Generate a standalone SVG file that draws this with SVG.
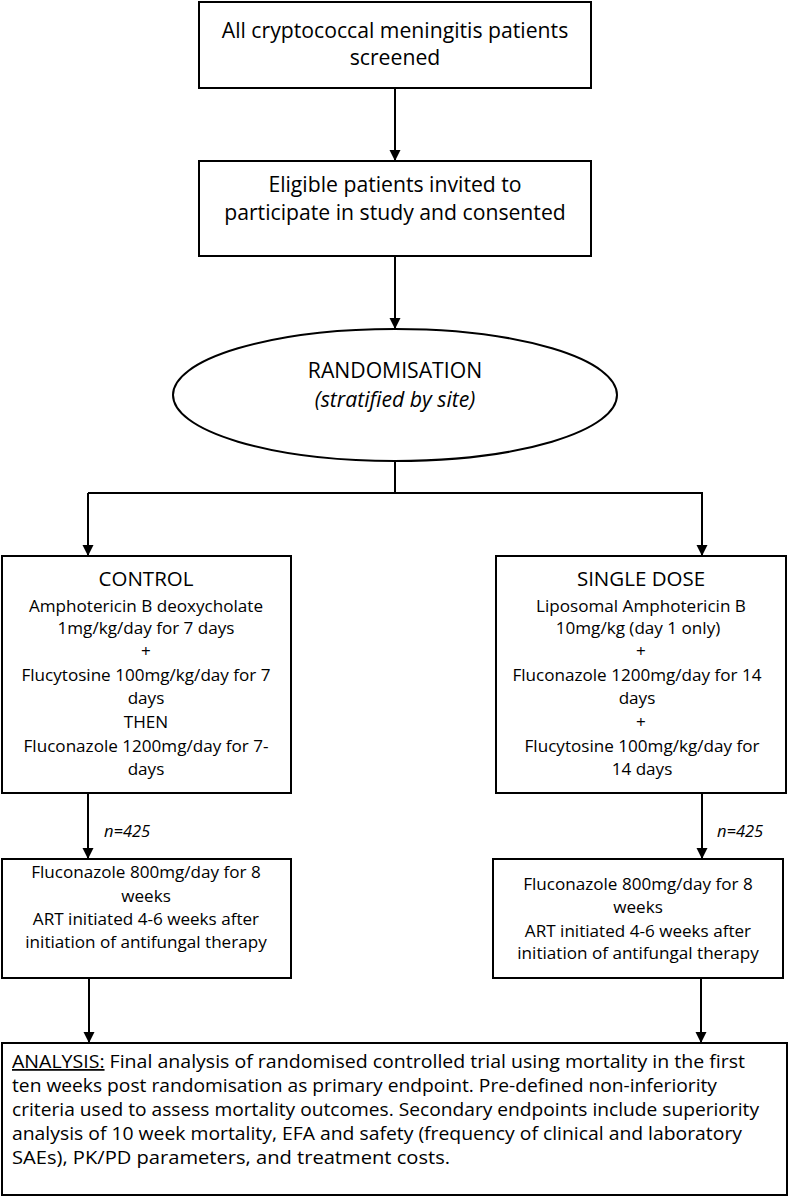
<svg xmlns="http://www.w3.org/2000/svg" width="789" height="1197" viewBox="0 0 789 1197">
<style>
.box{fill:#fff;stroke:#000;stroke-width:2}
.ln{fill:none;stroke:#000;stroke-width:2}
text{font-family:"Open Sans","Liberation Sans",sans-serif;fill:#000}
.t1{font-size:21.2px;text-anchor:middle}
.hd{font-size:20.5px;text-anchor:middle}
.t2{font-size:17.1px;text-anchor:middle}
.it{font-style:italic}
.nl{font-size:16.5px;font-style:italic}
.an{font-size:17.5px}
</style>
<defs>
<marker id="ah" markerWidth="12" markerHeight="12" refX="11" refY="5.5" orient="auto" markerUnits="userSpaceOnUse">
<path d="M0,0 L11,5.5 L0,11 z" fill="#000"/>
</marker>
</defs>
<g id="connectors">
<line class="ln" x1="395" y1="88" x2="395" y2="161" marker-end="url(#ah)"/>
<line class="ln" x1="395" y1="256" x2="395" y2="329" marker-end="url(#ah)"/>
<polyline class="ln" points="395,461 395,493"/>
<polyline class="ln" points="88,493 702,493 702,556" marker-end="url(#ah)"/>
<line class="ln" x1="88" y1="493" x2="88" y2="556" marker-end="url(#ah)"/>
<line class="ln" x1="88" y1="793" x2="88" y2="859" marker-end="url(#ah)"/>
<line class="ln" x1="702" y1="793" x2="702" y2="859" marker-end="url(#ah)"/>
<line class="ln" x1="89" y1="978" x2="89" y2="1043" marker-end="url(#ah)"/>
<line class="ln" x1="701" y1="978" x2="701" y2="1043" marker-end="url(#ah)"/>
<text class="nl" x="104" y="837">n=425</text>
<text class="nl" x="717" y="837">n=425</text>
</g>
<g id="screened">
<rect class="box" x="199" y="2" width="392" height="86"/>
<text class="t1" x="395" y="38">All cryptococcal meningitis patients</text>
<text class="t1" x="395" y="65">screened</text>
</g>
<g id="eligible">
<rect class="box" x="199" y="161" width="392" height="95"/>
<text class="t1" x="395" y="192">Eligible patients invited to</text>
<text class="t1" x="395" y="220">participate in study and consented</text>
</g>
<g id="randomisation">
<ellipse class="box" cx="395" cy="395" rx="222" ry="66"/>
<text class="t1" x="395" y="378">RANDOMISATION</text>
<text class="t1 it" x="395" y="407">(stratified by site)</text>
</g>
<g id="control">
<rect class="box" x="2" y="556" width="289" height="237"/>
<text class="hd" x="146" y="586">CONTROL</text>
<text class="t2" x="146" y="612">Amphotericin B deoxycholate</text>
<text class="t2" x="146" y="634">1mg/kg/day for 7 days</text>
<text class="t2" x="146" y="657">+</text>
<text class="t2" x="146" y="681">Flucytosine 100mg/kg/day for 7</text>
<text class="t2" x="146" y="704">days</text>
<text class="t2" x="146" y="728">THEN</text>
<text class="t2" x="146" y="752">Fluconazole 1200mg/day for 7-</text>
<text class="t2" x="146" y="775">days</text>
</g>
<g id="single-dose">
<rect class="box" x="496" y="556" width="290" height="237"/>
<text class="hd" x="641" y="586">SINGLE DOSE</text>
<text class="t2" x="641" y="612">Liposomal Amphotericin B</text>
<text class="t2" x="638" y="634">10mg/kg (day 1 only)</text>
<text class="t2" x="641" y="657">+</text>
<text class="t2" x="637" y="681">Fluconazole 1200mg/day for 14</text>
<text class="t2" x="637" y="704">days</text>
<text class="t2" x="641" y="728">+</text>
<text class="t2" x="642" y="752">Flucytosine 100mg/kg/day for</text>
<text class="t2" x="642" y="775">14 days</text>
</g>
<g id="control-followup">
<rect class="box" x="2" y="859" width="289" height="119"/>
<text class="t2" x="146" y="878">Fluconazole 800mg/day for 8</text>
<text class="t2" x="146" y="902">weeks</text>
<text class="t2" x="146" y="925">ART initiated 4-6 weeks after</text>
<text class="t2" x="146" y="948">initiation of antifungal therapy</text>
</g>
<g id="single-followup">
<rect class="box" x="493" y="859" width="290" height="119"/>
<text class="t2" x="638" y="890">Fluconazole 800mg/day for 8</text>
<text class="t2" x="638" y="913">weeks</text>
<text class="t2" x="638" y="937">ART initiated 4-6 weeks after</text>
<text class="t2" x="638" y="959">initiation of antifungal therapy</text>
</g>
<g id="analysis">
<rect class="box" x="2" y="1043" width="785" height="152"/>
<text class="an" x="12" y="1068" textLength="733" lengthAdjust="spacingAndGlyphs"><tspan text-decoration="underline">ANALYSIS:</tspan> Final analysis of randomised controlled trial using mortality in the first</text>
<text class="an" x="12" y="1092" textLength="705" lengthAdjust="spacingAndGlyphs">ten weeks post randomisation as primary endpoint. Pre-defined non-inferiority</text>
<text class="an" x="12" y="1116" textLength="747" lengthAdjust="spacingAndGlyphs">criteria used to assess mortality outcomes. Secondary endpoints include superiority</text>
<text class="an" x="12" y="1140" textLength="730" lengthAdjust="spacingAndGlyphs">analysis of 10 week mortality, EFA and safety (frequency of clinical and laboratory</text>
<text class="an" x="12" y="1164" textLength="438" lengthAdjust="spacingAndGlyphs">SAEs), PK/PD parameters, and treatment costs.</text>
</g>
</svg>
